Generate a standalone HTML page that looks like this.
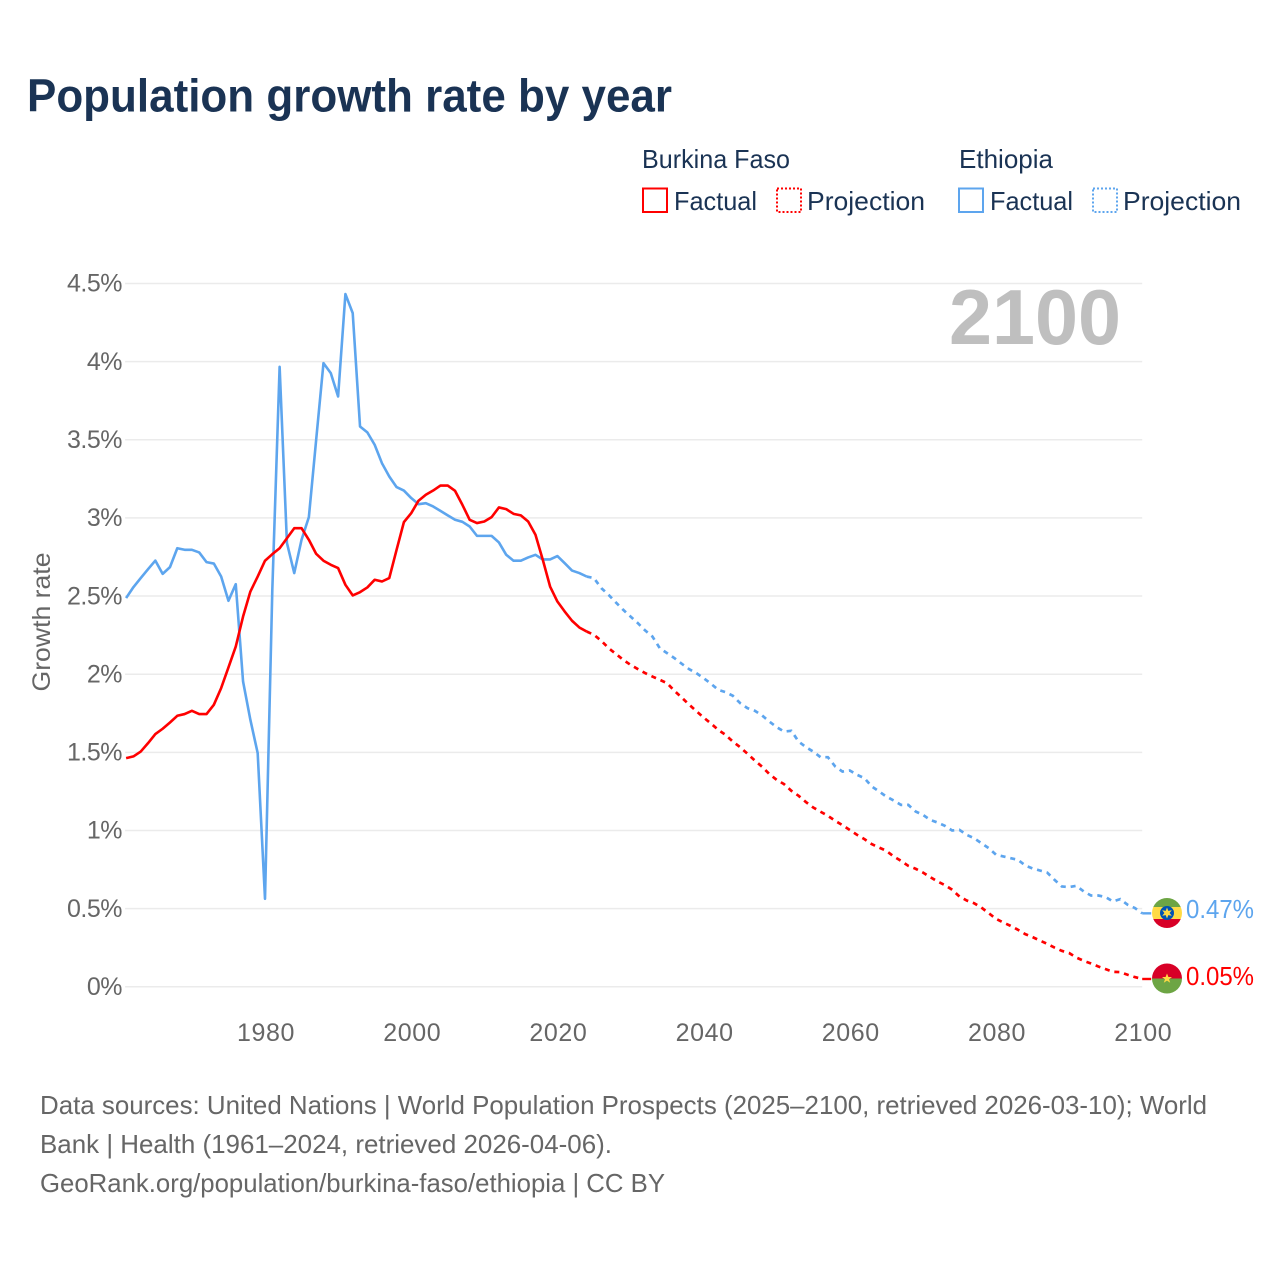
<!DOCTYPE html>
<html lang="en">
<head>
<meta charset="utf-8">
<title>Population growth rate by year</title>
<style>
html,body{margin:0;padding:0;background:#fff;}
svg{display:block;}
text{font-family:"Liberation Sans",sans-serif;}
</style>
</head>
<body>
<svg id="chart" xmlns="http://www.w3.org/2000/svg" width="1280" height="1280" viewBox="0 0 1280 1280">
  <rect width="1280" height="1280" fill="#ffffff"/>
  <text x="27" y="111.5" font-size="46" font-weight="700" fill="#1a3354" textLength="645" lengthAdjust="spacingAndGlyphs">Population growth rate by year</text>

  <g font-size="26" fill="#1a3354">
    <text x="642" y="168" textLength="148" lengthAdjust="spacingAndGlyphs">Burkina Faso</text>
    <text x="959" y="168" textLength="94" lengthAdjust="spacingAndGlyphs">Ethiopia</text>
    <rect x="643" y="188.5" width="24" height="23.5" fill="none" stroke="#ff0000" stroke-width="2"/>
    <text x="674" y="210" textLength="83" lengthAdjust="spacingAndGlyphs">Factual</text>
    <rect x="777" y="188.5" width="24" height="23.5" fill="none" stroke="#ff0000" stroke-width="2" stroke-dasharray="2 2"/>
    <text x="807" y="210" textLength="118" lengthAdjust="spacingAndGlyphs">Projection</text>
    <rect x="959" y="188.5" width="24" height="23.5" fill="none" stroke="#5da5ee" stroke-width="2"/>
    <text x="990" y="210" textLength="83" lengthAdjust="spacingAndGlyphs">Factual</text>
    <rect x="1093" y="188.5" width="24" height="23.5" fill="none" stroke="#5da5ee" stroke-width="2" stroke-dasharray="2 2"/>
    <text x="1123" y="210" textLength="118" lengthAdjust="spacingAndGlyphs">Projection</text>
  </g>

  <g id="grid"></g>
  <text x="1121" y="344" text-anchor="end" font-size="78" font-weight="700" fill="#bfbfbf" textLength="172" lengthAdjust="spacingAndGlyphs">2100</text>
  <g id="yTicks" font-size="25" fill="#666666"></g>
  <g id="xTicks" font-size="25" fill="#666666"></g>
  <text transform="translate(50,622) rotate(-90)" text-anchor="middle" font-size="25" fill="#666666" textLength="139" lengthAdjust="spacingAndGlyphs">Growth rate</text>
  <g id="series"></g>

  <defs>
    <clipPath id="clipEthiopia"><circle cx="1167" cy="913" r="15"/></clipPath>
    <clipPath id="clipBurkina"><circle cx="1167" cy="978.5" r="15"/></clipPath>
  </defs>
  <g id="flagEthiopia">
    <g clip-path="url(#clipEthiopia)">
      <rect x="1152" y="898" width="30" height="9" fill="#6da544"/>
      <rect x="1152" y="907" width="30" height="12" fill="#ffda44"/>
      <rect x="1152" y="919" width="30" height="9" fill="#d80027"/>
    </g>
    <circle cx="1167" cy="913" r="7" fill="#0052b4"/>
    <polygon points="1167,907.5 1168.3,910.9 1171.8,910.2 1169.6,913 1171.8,915.8 1168.3,915.1 1167,918.5 1165.7,915.1 1162.2,915.8 1164.4,913 1162.2,910.2 1165.7,910.9" fill="#ffda44"/>
  </g>
  <g id="flagBurkina">
    <g clip-path="url(#clipBurkina)">
      <rect x="1152" y="963" width="30" height="15.5" fill="#d80027"/>
      <rect x="1152" y="978.5" width="30" height="16" fill="#6da544"/>
    </g>
    <polygon points="1167,973.5 1168.4,977 1172,977 1169,979.2 1170.2,982.8 1167,980.6 1163.8,982.8 1165,979.2 1162,977 1165.6,977" fill="#ffda44"/>
  </g>
  <text x="1186" y="918" font-size="26" fill="#5da5ee" textLength="68" lengthAdjust="spacingAndGlyphs">0.47%</text>
  <text x="1186" y="985" font-size="26" fill="#ff0000" textLength="68" lengthAdjust="spacingAndGlyphs">0.05%</text>

  <g font-size="26" fill="#666666">
    <text x="40" y="1114" textLength="1167" lengthAdjust="spacingAndGlyphs">Data sources: United Nations | World Population Prospects (2025–2100, retrieved 2026-03-10); World</text>
    <text x="40" y="1153" textLength="572" lengthAdjust="spacingAndGlyphs">Bank | Health (1961–2024, retrieved 2026-04-06).</text>
    <text x="40" y="1192" textLength="625" lengthAdjust="spacingAndGlyphs">GeoRank.org/population/burkina-faso/ethiopia | CC BY</text>
  </g>
</svg>
<script>
const factualYears = [1961,1962,1963,1964,1965,1966,1967,1968,1969,1970,1971,1972,1973,1974,1975,1976,1977,1978,1979,1980,1981,1982,1983,1984,1985,1986,1987,1988,1989,1990,1991,1992,1993,1994,1995,1996,1997,1998,1999,2000,2001,2002,2003,2004,2005,2006,2007,2008,2009,2010,2011,2012,2013,2014,2015,2016,2017,2018,2019,2020,2021,2022,2023,2024];
const projectionYears = [2024,2025,2026,2027,2028,2029,2030,2031,2032,2033,2034,2035,2036,2037,2038,2039,2040,2041,2042,2043,2044,2045,2046,2047,2048,2049,2050,2051,2052,2053,2054,2055,2056,2057,2058,2059,2060,2061,2062,2063,2064,2065,2066,2067,2068,2069,2070,2071,2072,2073,2074,2075,2076,2077,2078,2079,2080,2081,2082,2083,2084,2085,2086,2087,2088,2089,2090,2091,2092,2093,2094,2095,2096,2097,2098,2099,2100];
const burkinaFactual = [1.463,1.474,1.505,1.559,1.617,1.651,1.691,1.734,1.745,1.766,1.745,1.745,1.804,1.911,2.043,2.177,2.369,2.529,2.625,2.726,2.768,2.806,2.87,2.934,2.934,2.86,2.77,2.726,2.7,2.679,2.572,2.504,2.525,2.555,2.604,2.593,2.615,2.796,2.973,3.03,3.11,3.148,3.175,3.207,3.207,3.173,3.084,2.988,2.967,2.977,3.005,3.067,3.056,3.026,3.016,2.977,2.892,2.732,2.561,2.465,2.401,2.342,2.299,2.273];
const ethiopiaFactual = [2.487,2.557,2.615,2.672,2.727,2.642,2.685,2.806,2.796,2.796,2.779,2.717,2.708,2.625,2.47,2.576,1.953,1.708,1.495,0.563,2.54,3.967,2.84,2.647,2.86,3.005,3.5,3.99,3.926,3.777,4.432,4.31,3.585,3.547,3.468,3.35,3.265,3.197,3.175,3.127,3.088,3.094,3.073,3.045,3.016,2.988,2.975,2.945,2.885,2.885,2.885,2.843,2.764,2.726,2.726,2.747,2.764,2.734,2.734,2.756,2.71,2.663,2.647,2.625];
const burkinaProjection = [2.273,2.252,2.214,2.167,2.13,2.092,2.06,2.033,2.007,1.985,1.964,1.943,1.894,1.851,1.806,1.764,1.723,1.685,1.644,1.612,1.569,1.533,1.491,1.448,1.408,1.361,1.324,1.297,1.254,1.222,1.182,1.147,1.12,1.094,1.062,1.034,1.003,0.972,0.945,0.913,0.891,0.87,0.834,0.806,0.774,0.755,0.731,0.702,0.674,0.651,0.621,0.578,0.552,0.535,0.507,0.471,0.435,0.411,0.39,0.365,0.337,0.318,0.296,0.275,0.251,0.23,0.216,0.187,0.166,0.149,0.13,0.113,0.096,0.094,0.077,0.062,0.05];
const ethiopiaProjection = [2.625,2.615,2.551,2.508,2.459,2.412,2.369,2.327,2.28,2.241,2.167,2.135,2.103,2.067,2.033,2.007,1.975,1.939,1.9,1.885,1.862,1.815,1.783,1.766,1.736,1.697,1.661,1.633,1.638,1.569,1.533,1.505,1.469,1.469,1.41,1.377,1.384,1.356,1.335,1.282,1.25,1.217,1.192,1.164,1.164,1.122,1.1,1.068,1.051,1.03,1.0,1.004,0.972,0.951,0.919,0.887,0.845,0.834,0.823,0.813,0.776,0.757,0.744,0.731,0.685,0.642,0.638,0.646,0.61,0.584,0.584,0.574,0.546,0.561,0.525,0.504,0.47];
const yTickValues = [0,0.5,1,1.5,2,2.5,3,3.5,4,4.5];
const yTickLabels = ['0%','0.5%','1%','1.5%','2%','2.5%','3%','3.5%','4%','4.5%'];
const xTickValues = [1980,2000,2020,2040,2060,2080,2100];
const xTickLabels = ['1980','2000','2020','2040','2060','2080','2100'];

const NS = 'http://www.w3.org/2000/svg';
function xScale(year) { return 265 + (year - 1980) * 7.31; }
function yScale(value) { return 986.8 - value * 156.3; }
function make(tag, parent, attrs) {
  const el = document.createElementNS(NS, tag);
  for (const k in attrs) el.setAttribute(k, attrs[k]);
  parent.appendChild(el);
  return el;
}

const gridGroup = document.getElementById('grid');
const yGroup = document.getElementById('yTicks');
yTickValues.forEach(function (v, i) {
  const line = make('line', gridGroup, {x1: xScale(1961) - 1, x2: xScale(2100), y1: yScale(v), y2: yScale(v), stroke: '#ebebeb', 'stroke-width': 1.5});
  
  
  const t = make('text', yGroup, {x: 122, y: yScale(v) + 8.2, 'text-anchor': 'end', 'letter-spacing': '-0.5'});
  
  
  t.textContent = yTickLabels[i];
});

const xGroup = document.getElementById('xTicks');
xTickValues.forEach(function (v, i) {
  const t = make('text', xGroup, {x: xScale(v) + 1, y: 1041, 'text-anchor': 'middle', 'letter-spacing': '0.6'});
  
  
  t.textContent = xTickLabels[i];
});

function linePath(years, values) {
  return years.map(function (yr, i) {
    return (i ? 'L' : 'M') + xScale(yr).toFixed(2) + ' ' + yScale(values[i]).toFixed(2);
  }).join(' ');
}

const seriesGroup = document.getElementById('series');
function drawFactual(name, values, color) {
  const p = make('path', seriesGroup, {d: linePath(factualYears, values), fill: 'none', stroke: color, 'stroke-width': 2.6, 'stroke-linejoin': 'round'});
  
  
}
function drawProjection(name, values, color) {
  const p = make('path', seriesGroup, {d: linePath(projectionYears, values), fill: 'none', stroke: color, 'stroke-width': 2.7, 'stroke-dasharray': '5 4.9'});
  
  
  const lastX = xScale(projectionYears[projectionYears.length - 1]);
  const lastY = yScale(values[values.length - 1]);
  const stub = make('line', seriesGroup, {x1: lastX, x2: lastX + 9, y1: lastY, y2: lastY, stroke: color, 'stroke-width': 2.4});
  
  
}
drawFactual('ethiopia-factual-line', ethiopiaFactual, '#5da5ee');
drawProjection('ethiopia-projection-line', ethiopiaProjection, '#5da5ee');
drawFactual('burkina-faso-factual-line', burkinaFactual, '#ff0000');
drawProjection('burkina-faso-projection-line', burkinaProjection, '#ff0000');
</script>
</body>
</html>
